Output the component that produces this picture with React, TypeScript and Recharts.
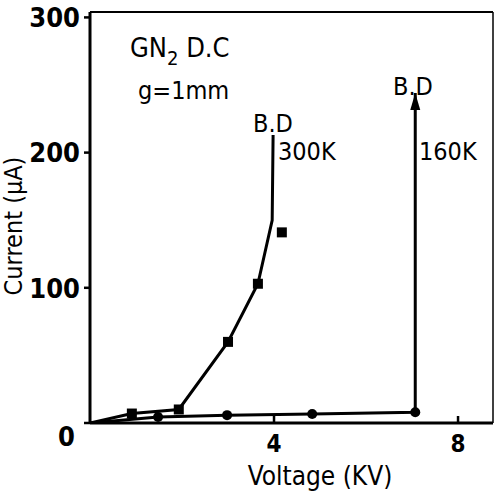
import React from 'react';
import { ComposedChart, Line, XAxis, YAxis } from 'recharts';

// 300K curve (squares)
const volts300 = [0, 0.91, 1.93, 3.0, 3.65, 3.96, 3.98];
const amps300 = [0, 7, 10, 60, 103, 150, 213];
const marks300 = ['', 'sq', 'sq', 'sq', 'sq', '', ''];

// 160K curve (circles, arrow at breakdown)
const volts160 = [0, 1.48, 2.98, 4.83, 7.07, 7.07];
const amps160 = [0, 4.4, 5.8, 6.6, 8, 244];
const marks160 = ['', 'ci', 'ci', 'ci', 'ci', 'arrow'];

// stray square off the 300K curve
const strayVolts = [4.17];
const strayAmps = [141];

const xTicks = [4, 8];
const yTicks = [0, 100, 200, 300];

const FONT = "'DejaVu Sans', sans-serif";

const toRows = (v: number[], a: number[], m: string[]) => v.map((x, i) => ({ v: x, a: a[i], m: m[i] }));

const data300 = toRows(volts300, amps300, marks300);
const data160 = toRows(volts160, amps160, marks160);
const dataStray = toRows(strayVolts, strayAmps, strayVolts.map(() => 'sq'));

const Marker = (props: any) => {
  const { cx, cy, payload, index } = props;
  const k = `m-${index}`;
  if (payload.m === 'sq') return <rect key={k} x={cx - 5} y={cy - 5} width={10} height={10} fill="#000" />;
  if (payload.m === 'ci') return <circle key={k} cx={cx} cy={cy} r={5} fill="#000" />;
  if (payload.m === 'arrow')
    return <path key={k} d={`M${cx},${cy} L${cx - 5},${cy + 17} L${cx + 5},${cy + 17} Z`} fill="#000" />;
  return <g key={k} />;
};

const txt = { fontFamily: FONT, fill: '#000', style: { fontStretch: 'condensed' as const } };

const YTick = ({ x, y, payload }: any) => {
  const zero = payload.value === 0;
  return (
    <text x={zero ? x - 5 : x} y={zero ? y + 13 : y} dy="0.36em" textAnchor="end"
      fontSize={27} fontWeight="bold" {...txt}>
      {payload.value}
    </text>
  );
};

const XTick = ({ x, y, payload }: any) => (
  <g>
    <line x1={x} x2={x} y1={y - 7} y2={y} stroke="#000" strokeWidth={2.5} />
    <text x={x} y={y + 29} textAnchor="middle" fontSize={24} fontWeight="bold" {...txt}>
      {payload.value}
    </text>
  </g>
);

export default function App() {
  return (
    <div style={{ position: 'absolute', left: 0, top: 0, background: '#fff' }}>
      <ComposedChart width={497} height={496} margin={{ top: 0, right: 0, left: 0, bottom: 0 }}>
        <XAxis xAxisId="top" orientation="top" type="number" domain={[0, 8.76]} height={12}
          tick={false} tickLine={false} axisLine={{ stroke: '#000', strokeWidth: 2 }} />
        <YAxis yAxisId="right" orientation="right" type="number" domain={[0, 304]} width={4}
          tick={false} tickLine={false} axisLine={{ stroke: '#000', strokeWidth: 1.5 }} />
        <XAxis dataKey="v" type="number" domain={[0, 8.76]} ticks={xTicks} height={73}
          allowDataOverflow tickLine={false} tickSize={0} tickMargin={0} tick={<XTick />}
          axisLine={{ stroke: '#000', strokeWidth: 3 }}
          label={{
            content: () => (
              <text x={320} y={485} textAnchor="middle" fontSize={26} fontWeight="500" {...txt}>Voltage (KV)</text>
            ),
          }} />
        <YAxis type="number" domain={[0, 304]} ticks={yTicks} width={90} allowDataOverflow
          tickSize={6} tickMargin={4} tick={<YTick />}
          tickLine={{ stroke: '#000', strokeWidth: 2.5 }}
          axisLine={{ stroke: '#000', strokeWidth: 3 }}
          label={{
            content: () => (
              <text x={22} y={226} transform="rotate(-90 22 226)" textAnchor="middle" fontSize={25} fontWeight="500" {...txt}>
                Current (μA)
              </text>
            ),
          }} />
        <Line data={data300} dataKey="a" type="linear" stroke="#000" strokeWidth={3}
          dot={Marker} activeDot={false} isAnimationActive={false} />
        <Line data={data160} dataKey="a" type="linear" stroke="#000" strokeWidth={3}
          dot={Marker} activeDot={false} isAnimationActive={false} />
        <Line data={dataStray} dataKey="a" stroke="none" dot={Marker} activeDot={false}
          isAnimationActive={false} />
        <text x={130} y={57} fontSize={27} fontWeight="500" {...txt}>
          GN<tspan dy={8} fontSize={20}>2</tspan><tspan dy={-8}>{'  D.C'}</tspan>
        </text>
        <text x={138} y={99} fontSize={25} fontWeight="500" {...txt}>g=1mm</text>
        <text x={253} y={132} fontSize={25} fontWeight="500" {...txt}>B.D</text>
        <text x={278} y={160} fontSize={25} fontWeight="500" {...txt}>300K</text>
        <text x={393} y={95} fontSize={25} fontWeight="500" {...txt}>B.D</text>
        <text x={419} y={160} fontSize={25} fontWeight="500" {...txt}>160K</text>
      </ComposedChart>
    </div>
  );
}
